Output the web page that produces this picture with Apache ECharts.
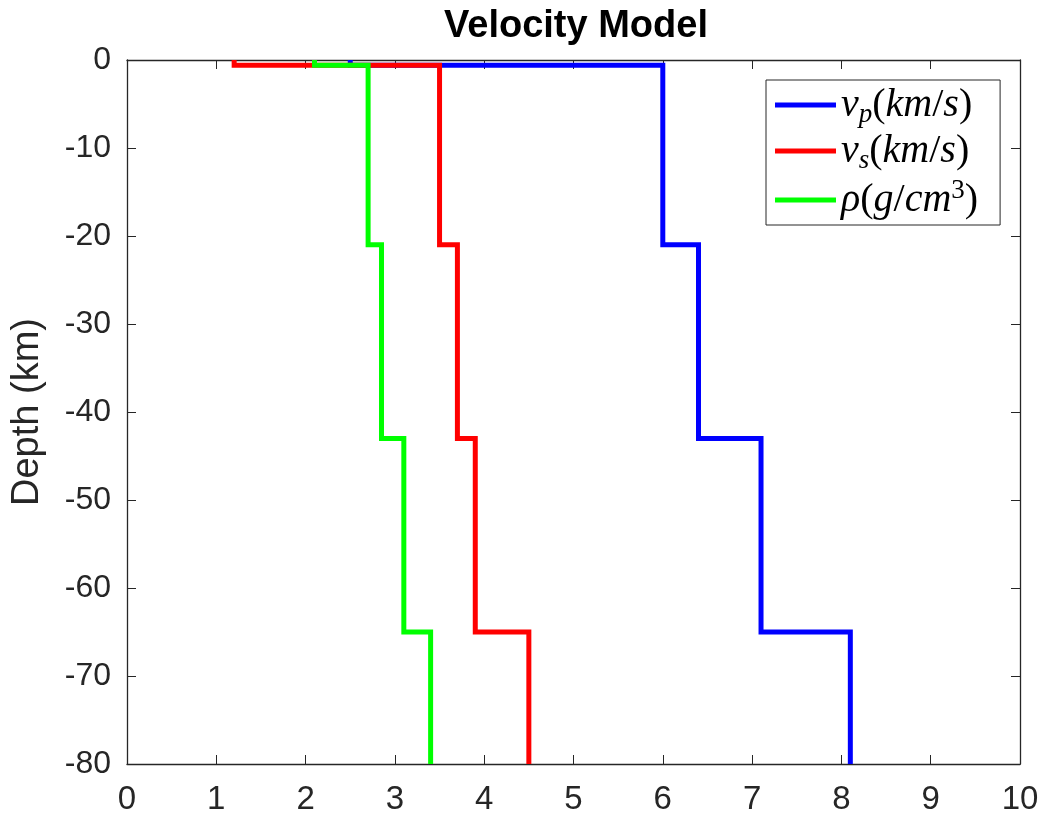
<!DOCTYPE html>
<html>
<head>
<meta charset="utf-8">
<script src="https://cdn.jsdelivr.net/npm/echarts@6/dist/echarts.min.js"></script>
<style>
  html, body { margin: 0; padding: 0; background: #fff; }
  #chart { width: 1045px; height: 820px; }
</style>
</head>
<body>
<div id="chart"></div>
<script>
// Layered crustal model: top depth of each layer (km, negative downward)
const layerTops = [0, -0.6, -21, -43, -65];
const modelBottom = -80;

// Properties of each layer
const vp  = [2.5, 6.0, 6.4, 7.1, 8.1];   // P-wave velocity, km/s
const vs  = [1.2, 3.5, 3.7, 3.9, 4.5];   // S-wave velocity, km/s
const rho = [2.1, 2.7, 2.85, 3.1, 3.4];  // density, g/cm^3

const xTicks = [0, 10, 1];      // min, max, step
const yTicks = [-80, 0, 10];    // min, max, step

// Turn per-layer values into a staircase profile [value, depth]
function profile(values) {
  const pts = [];
  for (let i = 0; i < values.length; i++) {
    const top = layerTops[i];
    const bot = i + 1 < layerTops.length ? layerTops[i + 1] : modelBottom;
    pts.push([values[i], top]);
    pts.push([values[i], bot]);
  }
  return pts;
}

const axisColor = '#262626';
const sansFont = '"Liberation Sans", Arial, Helvetica, sans-serif';
const serifFont = '"Liberation Serif", "Times New Roman", serif';

const legendLabels = {
  vp:  '{i|v}{sub|p}{r|(}{i|km}{r|/}{i|s}{r|)}',
  vs:  '{i|v}{sub|s}{r|(}{i|km}{r|/}{i|s}{r|)}',
  rho: '{i|ρ}{r|(}{i|g}{r|/}{i|cm}{sup|3}{r|)}'
};

function stepSeries(name, color, values) {
  return {
    name: name,
    type: 'line',
    data: profile(values),
    showSymbol: false,
    symbol: 'none',
    animation: false,
    lineStyle: { color: color, width: 5, join: 'miter', cap: 'butt' },
    itemStyle: { color: color },
    clip: true
  };
}

const commonTick = { show: true, inside: true, length: 9, lineStyle: { color: axisColor, width: 1 } };
const commonLine = { show: true, onZero: false, lineStyle: { color: axisColor, width: 1.3 } };

const chart = echarts.init(document.getElementById('chart'), null, { renderer: 'canvas' });
chart.setOption({
  backgroundColor: '#ffffff',
  animation: false,
  title: {
    text: 'Velocity Model',
    left: 576,
    top: 8,
    padding: 0,
    textAlign: 'center',
    textStyle: { fontFamily: sansFont, fontSize: 38, fontWeight: 'bold', color: '#000' }
  },
  grid: { left: 127, right: 25, top: 60, bottom: 56, containLabel: false },
  legend: {
    orient: 'vertical',
    left: 766,
    top: 80,
    padding: [5, 22, 5, 9],
    itemGap: 3,
    itemWidth: 61,
    itemHeight: 5,
    icon: 'rect',
    backgroundColor: '#ffffff',
    borderColor: axisColor,
    borderWidth: 1,
    borderRadius: 0,
    selectedMode: false,
    data: ['vp', 'vs', 'rho'],
    formatter: function (name) { return legendLabels[name]; },
    textStyle: {
      color: '#000',
      rich: {
        i:   { fontFamily: serifFont, fontStyle: 'italic', fontSize: 40, lineHeight: 46, color: '#000' },
        r:   { fontFamily: serifFont, fontSize: 40, lineHeight: 46, color: '#000' },
        sub: { fontFamily: serifFont, fontStyle: 'italic', fontSize: 27, lineHeight: 27, verticalAlign: 'bottom', color: '#000' },
        sup: { fontFamily: serifFont, fontSize: 27, lineHeight: 26, verticalAlign: 'top', color: '#000' }
      }
    }
  },
  xAxis: [
    {
      type: 'value', position: 'bottom',
      min: xTicks[0], max: xTicks[1], interval: xTicks[2],
      axisLine: commonLine, axisTick: commonTick,
      axisLabel: { show: true, fontFamily: sansFont, fontSize: 33, color: axisColor, margin: 19 },
      splitLine: { show: false }
    },
    {
      type: 'value', position: 'top',
      min: xTicks[0], max: xTicks[1], interval: xTicks[2],
      axisLine: commonLine, axisTick: commonTick,
      axisLabel: { show: false }, splitLine: { show: false }
    }
  ],
  yAxis: [
    {
      type: 'value', position: 'left',
      min: yTicks[0], max: yTicks[1], interval: yTicks[2],
      name: 'Depth (km)', nameLocation: 'middle', nameGap: 80,
      nameTextStyle: { fontFamily: sansFont, fontSize: 38, color: axisColor },
      axisLine: commonLine, axisTick: commonTick,
      axisLabel: { show: true, fontFamily: sansFont, fontSize: 32, color: axisColor, margin: 16 },
      splitLine: { show: false }
    },
    {
      type: 'value', position: 'right',
      min: yTicks[0], max: yTicks[1], interval: yTicks[2],
      axisLine: commonLine, axisTick: commonTick,
      axisLabel: { show: false }, splitLine: { show: false }
    }
  ],
  series: [
    stepSeries('vp', '#0000ff', vp),
    stepSeries('vs', '#ff0000', vs),
    stepSeries('rho', '#00ff00', rho)
  ]
});
</script>
</body>
</html>
